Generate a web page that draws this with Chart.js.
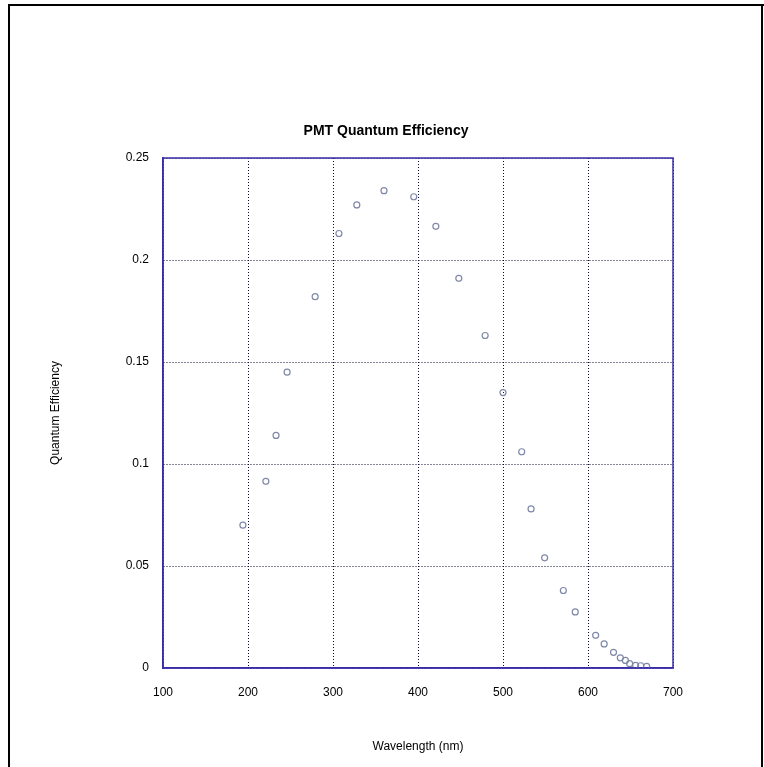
<!DOCTYPE html>
<html>
<head>
<meta charset="utf-8">
<title>PMT Quantum Efficiency</title>
<script src="https://cdn.jsdelivr.net/npm/chart.js@4/dist/chart.umd.min.js"></script>
<style>
    body { margin: 0; background: #ffffff; }
    #wrap { width: 764px; height: 767px; }
</style>
</head>
<body>
<div id="wrap"><canvas id="qeChart" width="764" height="767"></canvas></div>
<script>

// DATA
const wavelength = [194, 221, 233, 246, 279, 307, 328, 360, 395, 421, 448, 479, 500, 522, 533, 549, 571, 585, 609, 619, 630, 638, 644, 649, 656, 662, 669];
const efficiency = [0.070, 0.0915, 0.114, 0.145, 0.182, 0.213, 0.227, 0.234, 0.231, 0.2165, 0.191, 0.163, 0.135, 0.106, 0.078, 0.054, 0.038, 0.0275, 0.016, 0.0118, 0.0077, 0.005, 0.0037, 0.0021, 0.0013, 0.0011, 0.0008];

const xTickValues = [100, 200, 300, 400, 500, 600, 700];
const yTickValues = [0, 0.05, 0.1, 0.15, 0.2, 0.25];
const yTickLabels = ['0', '0.05', '0.1', '0.15', '0.2', '0.25'];

const chartTitle = 'PMT Quantum Efficiency';
const xTitle = 'Wavelength (nm)';
const yTitle = 'Quantum Efficiency';

const FONT = 'Arial, "Liberation Sans", sans-serif';
const FRAME_BLUE = '#3a2ca8';
const GRID_COLOR = '#0a0a30';

// page border + plot frame + title
const decorations = {
    id: 'decorations',
    afterDraw(chart) {
        const ctx = chart.ctx;
        const area = chart.chartArea;

        ctx.save();
        ctx.fillStyle = '#000000';
        ctx.fillRect(8, 4, 2, 763);
        ctx.fillRect(8, 4, 756, 2);
        ctx.fillRect(761, 4, 2, 763);

        ctx.strokeStyle = FRAME_BLUE;
        ctx.lineWidth = 1.5;
        ctx.strokeRect(area.left, area.top, area.right - area.left, area.bottom - area.top);

        ctx.fillStyle = '#000000';
        ctx.font = 'bold 14px ' + FONT;
        ctx.textAlign = 'center';
        ctx.textBaseline = 'middle';
        ctx.fillText(chartTitle, 386, 131);
        ctx.restore();
    }
};

const ctx = document.getElementById('qeChart').getContext('2d');

const qeChart = new Chart(ctx, {

    type: 'scatter',

    data: {
        datasets: [
            {
                label: 'QE',
                data: wavelength.map((w, i) => ({ x: w, y: efficiency[i] })),
                pointStyle: 'circle',
                pointRadius: 3,
                pointBorderWidth: 1.2,
                pointBackgroundColor: 'rgba(0,0,0,0)',
                pointBorderColor: '#8088a8'
            }
        ]
    },

    options: {

        responsive: false,
        animation: false,

        layout: {
            padding: { top: 158, left: 0, right: 91, bottom: 0 }
        },

        plugins: {
            legend: { display: false },
            title: { display: false },
            tooltip: { enabled: false }
        },

        scales: {

            x: {
                type: 'linear',
                min: 100,
                max: 700,
                afterFit(scale) { scale.height = 99; },
                afterBuildTicks(scale) {
                    scale.ticks = xTickValues.map(v => ({ value: v }));
                },
                ticks: {
                    color: '#000000',
                    font: { family: FONT, size: 12 },
                    padding: 17,
                    maxRotation: 0
                },
                grid: {
                    color: GRID_COLOR,
                    lineWidth: 1,
                    drawTicks: false
                },
                border: {
                    display: true,
                    color: FRAME_BLUE,
                    width: 1.5,
                    dash: [1, 2]
                },
                title: {
                    display: true,
                    text: xTitle,
                    color: '#000000',
                    font: { family: FONT, size: 12 },
                    padding: { top: 0, bottom: 13 }
                }
            },

            y: {
                type: 'linear',
                min: 0,
                max: 0.25,
                afterFit(scale) { scale.width = 163; },
                afterBuildTicks(scale) {
                    scale.ticks = yTickValues.map(v => ({ value: v }));
                },
                ticks: {
                    color: '#000000',
                    font: { family: FONT, size: 12 },
                    padding: 14,
                    callback: (value, index) => yTickLabels[index]
                },
                grid: {
                    color: GRID_COLOR,
                    lineWidth: 1,
                    drawTicks: false
                },
                border: {
                    display: true,
                    color: FRAME_BLUE,
                    width: 1.5,
                    dash: [1, 2]
                },
                title: {
                    display: true,
                    text: yTitle,
                    color: '#000000',
                    font: { family: FONT, size: 12 },
                    padding: { top: 48, bottom: 0 }
                }
            }
        }
    },

    plugins: [decorations]
});

</script>
</body>
</html>
